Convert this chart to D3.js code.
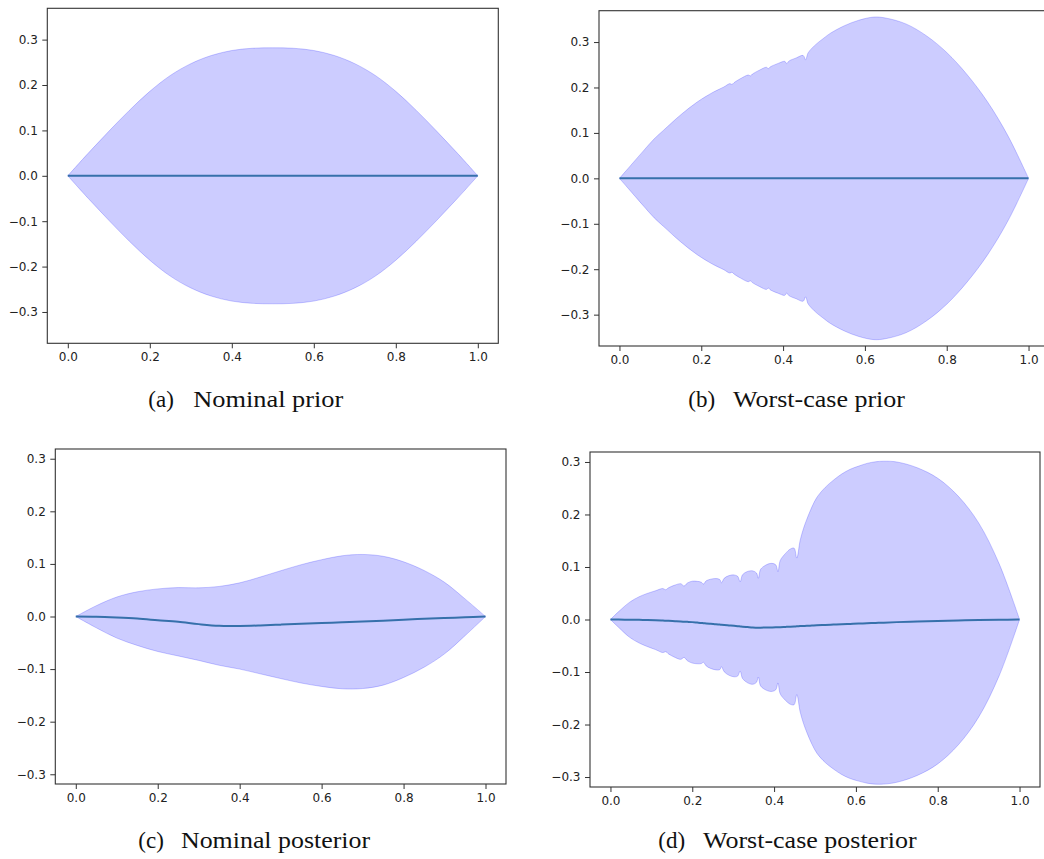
<!DOCTYPE html>
<html><head><meta charset="utf-8">
<script src="https://cdn.jsdelivr.net/npm/d3@7"></script>
<style>body{margin:0;background:#fff;} svg{display:block;}</style>
</head><body>
<svg id="fig" width="1044" height="859"></svg>
<script>
// ---------- tick labels / captions ----------
const xTicks = [0, 0.2, 0.4, 0.6, 0.8, 1.0];
const yTicks = [-0.3, -0.2, -0.1, 0, 0.1, 0.2, 0.3];
const captionLabels = ["(a)", "(b)", "(c)", "(d)"];
const captionTitles = ["Nominal prior", "Worst-case prior", "Nominal posterior", "Worst-case posterior"];

// ---------- (a) nominal prior ----------
const nomPriorX      = [0,0.05,0.1,0.15,0.2,0.25,0.3,0.35,0.4,0.45,0.5,0.55,0.6,0.65,0.7,0.75,0.8,0.85,0.9,0.95,1.0];
const nomPriorMean   = [0,0,0,0,0,0,0,0,0,0,0,0,0,0,0,0,0,0,0,0,0];
const nomPriorSpread = [0,0.050,0.098,0.144,0.186,0.221,0.247,0.265,0.276,0.281,0.282,0.281,0.276,0.265,0.247,0.221,0.186,0.144,0.098,0.050,0];

// ---------- (b) worst-case prior ----------
const wcPriorX = [0,0.03,0.06,0.085,0.108,0.15,0.19,0.23,0.255,0.27,0.275,0.28,0.295,0.315,0.32,0.325,0.342,0.359,0.364,0.369,0.388,0.404,0.409,0.414,0.432,0.449,0.455,0.461,0.47,0.483,0.5,0.515,0.55,0.585,0.622,0.65,0.7,0.75,0.8,0.85,0.9,0.95,1.0];
const wcPriorMean = [0,0,0,0,0,0,0,0,0,0,0,0,0,0,0,0,0,0,0,0,0,0,0,0,0,0,0,0,0,0,0,0,0,0,0,0,0,0,0,0,0,0,0];
const wcPriorSpread = [0,0.031,0.062,0.087,0.106,0.140,0.168,0.190,0.201,0.2085,0.2065,0.2105,0.219,0.2275,0.2255,0.2295,0.238,0.2445,0.2415,0.2455,0.253,0.2575,0.2525,0.258,0.265,0.2705,0.261,0.276,0.286,0.297,0.309,0.319,0.336,0.348,0.355,0.353,0.340,0.314,0.277,0.228,0.168,0.093,0];

// ---------- (c) nominal posterior ----------
const nomPostX      = [0,0.05,0.1,0.15,0.2,0.25,0.3,0.35,0.4,0.45,0.5,0.55,0.6,0.65,0.7,0.75,0.8,0.85,0.9,0.95,1.0];
const nomPostMean   = [0,-0.0005,-0.002,-0.004,-0.007,-0.010,-0.0145,-0.0178,-0.018,-0.017,-0.0155,-0.014,-0.0125,-0.011,-0.0095,-0.008,-0.006,-0.0045,-0.003,-0.0015,0];
const nomPostSpread = [0,0.021,0.039,0.051,0.0595,0.065,0.069,0.075,0.082,0.092,0.1025,0.1125,0.1205,0.1265,0.1275,0.1225,0.110,0.092,0.068,0.035,0];

// ---------- (d) worst-case posterior ----------
const wcPostX = [0,0.02,0.047,0.07,0.088,0.11,0.128,0.135,0.142,0.158,0.172,0.18,0.188,0.2,0.212,0.222,0.2275,0.234,0.245,0.258,0.267,0.2715,0.278,0.29,0.302,0.311,0.317,0.323,0.335,0.348,0.357,0.3615,0.367,0.38,0.393,0.404,0.4095,0.415,0.428,0.44,0.449,0.4555,0.4636,0.4718,0.48,0.4925,0.5045,0.525,0.545,0.565,0.586,0.607,0.627,0.648,0.668,0.7,0.75,0.8,0.85,0.9,0.95,1.0];
const wcPostMean = [0,0,-0.0005,-0.0007,-0.0009,-0.0013,-0.002,-0.0023,-0.0026,-0.0033,-0.0039,-0.0042,-0.0045,-0.005,-0.0058,-0.0065,-0.007,-0.0074,-0.0082,-0.009,-0.0097,-0.010,-0.0105,-0.0113,-0.0121,-0.0128,-0.0132,-0.0136,-0.0145,-0.0154,-0.0155,-0.0155,-0.0155,-0.0153,-0.0151,-0.0149,-0.0148,-0.0146,-0.0141,-0.0136,-0.0132,-0.013,-0.0126,-0.0123,-0.012,-0.0115,-0.011,-0.0104,-0.0097,-0.0091,-0.0084,-0.0078,-0.0072,-0.0066,-0.006,-0.005,-0.004,-0.003,-0.002,-0.001,-0.0005,0];
const wcPostSpread = [0,0.015,0.0335,0.044,0.050,0.056,0.061,0.059,0.063,0.069,0.072,0.068,0.074,0.078,0.0785,0.0775,0.0745,0.081,0.085,0.087,0.086,0.080,0.089,0.095,0.097,0.095,0.085,0.099,0.106,0.108,0.104,0.094,0.111,0.119,0.122,0.119,0.106,0.127,0.140,0.148,0.149,0.130,0.163,0.1855,0.203,0.226,0.2435,0.262,0.275,0.286,0.2945,0.300,0.3045,0.307,0.3075,0.305,0.293,0.272,0.237,0.185,0.107,0];

// ---------- layout ----------
const panels = [
  {x: nomPriorX, mean: nomPriorMean, sd: nomPriorSpread, box: [47.3, 8.3, 451, 335],   ymax: 0.369,  cap: [148.3, 193.3, 343.3, 406.5]},
  {x: wcPriorX,  mean: wcPriorMean,  sd: wcPriorSpread,  box: [599, 10.7, 450, 335.3], ymax: 0.369,  cap: [688.3, 733, 905, 406.5]},
  {x: nomPostX,  mean: nomPostMean,  sd: nomPostSpread,  box: [55.3, 449, 450.7, 335], ymax: 0.3185, cap: [138.3, 181, 370, 848.3]},
  {x: wcPostX,   mean: wcPostMean,   sd: wcPostSpread,   box: [590, 452, 450, 335],   ymax: 0.319,  cap: [658.3, 703, 916.7, 848.3]}
];

const svg = d3.select("#fig");
const fmt = d3.format(".1f");
const curve = d3.curveCatmullRom.alpha(0.5);

panels.forEach((p, i) => {
  const [L, T, W, H] = p.box;
  const xs = d3.scaleLinear().domain([-0.05, 1.05]).range([L, L + W]);
  const ys = d3.scaleLinear().domain([-p.ymax, p.ymax]).range([T + H, T]);
  const rows = p.x.map((v, k) => ({x: v, m: p.mean[k], s: p.sd[k]}));
  const g = svg.append("g");

  const clipId = "clip" + i;
  svg.append("clipPath").attr("id", clipId).append("rect")
    .attr("x", L).attr("y", T).attr("width", W).attr("height", H);

  const area = d3.area().curve(curve)
    .x(d => xs(d.x)).y0(d => ys(d.m - d.s)).y1(d => ys(d.m + d.s));
  g.append("path").datum(rows).attr("d", area)
    .attr("clip-path", `url(#${clipId})`)
    .attr("fill", "rgb(0,0,255)").attr("fill-opacity", 0.2)
    .attr("stroke", "rgb(0,0,255)").attr("stroke-opacity", 0.2).attr("stroke-width", 1);

  const line = d3.line().curve(curve).x(d => xs(d.x)).y(d => ys(d.m));
  g.append("path").datum(rows).attr("d", line)
    .attr("fill", "none").attr("stroke", "#3670ab").attr("stroke-width", 2);

  const xa = g.append("g").attr("transform", `translate(0,${T + H})`)
    .call(d3.axisBottom(xs).tickValues(xTicks).tickFormat(fmt).tickSize(5).tickPadding(4.5));
  const ya = g.append("g").attr("transform", `translate(${L},0)`)
    .call(d3.axisLeft(ys).tickValues(yTicks).tickFormat(fmt).tickSize(5).tickPadding(4.5));
  [xa, ya].forEach(a => {
    a.select(".domain").remove();
    a.selectAll("line").attr("stroke", "#333").attr("stroke-width", 1);
    a.selectAll("text").attr("fill", "#222")
      .style("font-family", "'DejaVu Sans', sans-serif").style("font-size", "12px");
  });

  g.append("rect").attr("x", L).attr("y", T).attr("width", W).attr("height", H)
    .attr("fill", "none").attr("stroke", "#333").attr("stroke-width", 1.1);

  const [lx, tx, tEnd, base] = p.cap;
  g.append("text").attr("x", lx).attr("y", base).text(captionLabels[i])
    .style("font-family", "'Liberation Serif', serif").style("font-size", "23px").attr("fill", "#111");
  g.append("text").attr("x", tx).attr("y", base).text(captionTitles[i])
    .attr("textLength", tEnd - tx).attr("lengthAdjust", "spacingAndGlyphs")
    .style("font-family", "'Liberation Serif', serif").style("font-size", "23px").attr("fill", "#111");
});
</script>
</body></html>
